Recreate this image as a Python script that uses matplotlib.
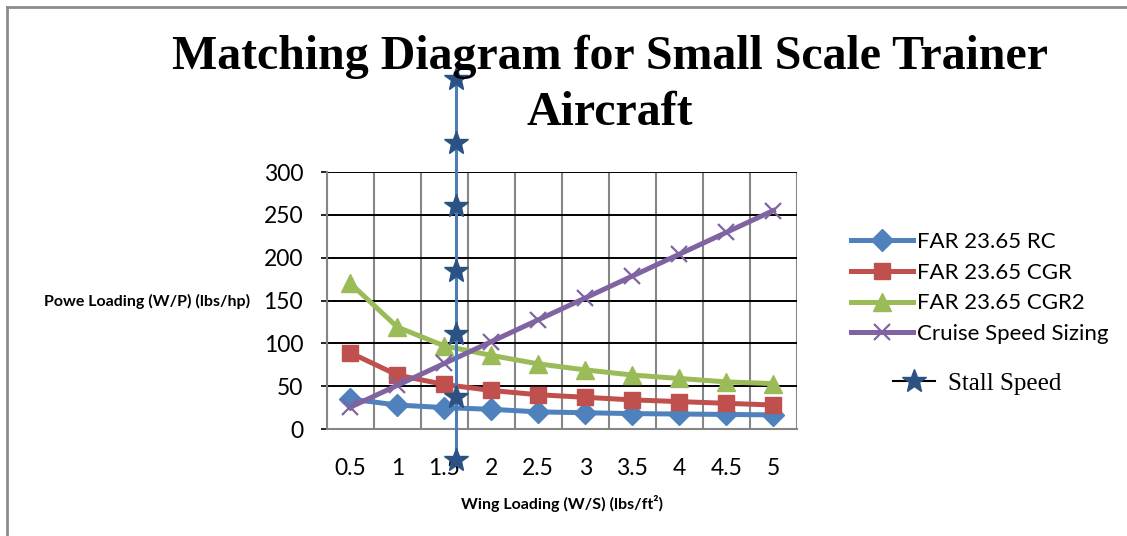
import matplotlib
matplotlib.use('Agg')
import matplotlib.pyplot as plt
from matplotlib.lines import Line2D

# data
wingLoading = [0.5, 1, 1.5, 2, 2.5, 3, 3.5, 4, 4.5, 5]
xLabels = ['0.5', '1', '1.5', '2', '2.5', '3', '3.5', '4', '4.5', '5']
farRC = [35, 28, 25, 23, 20, 19, 18, 17.5, 17, 16.5]
farCGR = [89, 63, 52, 45, 40, 37, 34, 32, 30, 28]
farCGR2 = [170, 119, 97, 86, 76, 69, 63, 59, 55, 53]
cruiseSizing = [25.5, 51, 76.5, 102, 127.5, 153, 178.5, 204, 229.5, 255]
stallWS = [1.62, 1.62, 1.62, 1.62, 1.62, 1.62, 1.62]
stallWP = [-36, 37, 111, 185, 260, 334, 408]
yTicks = [0, 50, 100, 150, 200, 250, 300]

sansFont = 'Lato'
serifFont = 'Liberation Serif'

fig = plt.figure(figsize=(11.27, 5.36), dpi=100)
ax = fig.add_axes([0.290, 0.1996, 0.417, 0.4795])

ax.plot(wingLoading, farRC, '-D', color='#4F81BD', lw=3.6, ms=11, label='FAR 23.65 RC', zorder=3)
ax.plot(wingLoading, farCGR, '-s', color='#C0504D', lw=3.6, ms=12, label='FAR 23.65 CGR', zorder=3)
ax.plot(wingLoading, farCGR2, '-^', color='#9BBB59', lw=3.6, ms=13, label='FAR 23.65 CGR2', zorder=3)
ax.plot(wingLoading, cruiseSizing, '-x', color='#8064A2', lw=3.6, ms=12, mew=1.6, label='Cruise Speed Sizing', zorder=3)
ax.plot(stallWS, stallWP, '-', color='#4A7EBB', lw=2.2, clip_on=False, zorder=4)
ax.plot(stallWS, stallWP, '*', color='#2C5283', ms=18, clip_on=False, zorder=5)

ax.set_xlim(0.25, 5.25)
ax.set_ylim(0, 300)
ax.set_xticks(wingLoading)
ax.set_xticklabels(xLabels)
ax.set_xticks([0.25 + 0.5 * k for k in range(11)], minor=True)
ax.set_yticks(yTicks)
ax.grid(True, which='minor', axis='x', color='#868686', lw=1.5)
ax.grid(True, which='major', axis='y', color='black', lw=1.4)
ax.set_axisbelow(True)
for side in ['top', 'right']:
    ax.spines[side].set_visible(False)
ax.spines['left'].set_color('#868686')
ax.spines['bottom'].set_color('#868686')
ax.spines['left'].set_linewidth(1.5)
ax.spines['bottom'].set_linewidth(1.5)
ax.tick_params(axis='x', which='both', length=0, pad=21, labelsize=16.5)
ax.tick_params(axis='y', length=4, width=1.2, color='black', pad=13, labelsize=16.5)
for lbl in ax.get_xticklabels() + ax.get_yticklabels():
    lbl.set_fontfamily(sansFont)

# axis titles
fig.text(250 / 1127, 1 - 301 / 536, 'Powe Loading (W/P) (lbs/hp)', ha='right', va='center',
         fontsize=11.5, fontweight='bold', family=sansFont)
fig.text(562 / 1127, 1 - 503 / 536, 'Wing Loading (W/S) (lbs/ft²)', ha='center', va='center',
         fontsize=11.5, fontweight='bold', family=sansFont)

# title
fig.text(610 / 1127, 1 - 35 / 536, 'Matching Diagram for Small Scale Trainer\nAircraft', ha='center', va='top',
         fontsize=34.5, fontweight='bold', family=serifFont, linespacing=1.35)

# legends
leg = fig.legend(loc='upper left', bbox_to_anchor=(840 / 1127, 1 - 221 / 536), frameon=False,
                 prop={'family': sansFont, 'size': 16}, handlelength=2.8, handletextpad=0.15,
                 labelspacing=0.48, borderpad=0)
stallHandle = Line2D([0], [0], color='black', lw=1.5, marker='*', ms=18,
                     markerfacecolor='#2C5283', markeredgecolor='#2C5283')
leg2 = fig.legend([stallHandle], ['Stall Speed'], loc='upper left',
                  bbox_to_anchor=(880 / 1127, 1 - 360 / 536), frameon=False,
                  prop={'family': serifFont, 'size': 18}, handlelength=1.7, handletextpad=0.5,
                  borderpad=0)

# outer chart border (left and top edges visible)
fig.add_artist(Line2D([7 / 1127, 7 / 1127], [0, 1 - 7 / 536], color='#8C8C8C', lw=2))
fig.add_artist(Line2D([7 / 1127, 1], [1 - 7 / 536, 1 - 7 / 536], color='#8C8C8C', lw=2))

fig.savefig('out.png', dpi=100)
